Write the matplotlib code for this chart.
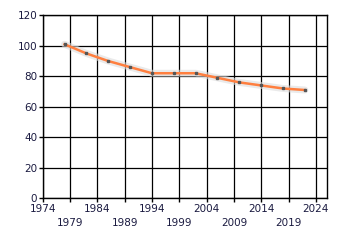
import matplotlib
matplotlib.use("Agg")
import matplotlib.pyplot as plt

years = [1978, 1982, 1986, 1990, 1994, 1998, 2002, 2006, 2010, 2014, 2018, 2022]
values = [101, 95, 90, 86, 82, 82, 82, 79, 76, 74, 72, 71]
xticks = list(range(1974, 2025, 5))
yticks = [0, 20, 40, 60, 80, 100, 120]

fig = plt.figure(figsize=(3.4, 2.45), dpi=100)
ax = fig.add_axes([0.1256, 0.1906, 0.961 - 0.1256, 0.9376 - 0.1906])

ax.plot(years, values, color="#dcdcdc", lw=5, alpha=0.6, solid_capstyle="round", zorder=3)
ax.plot(years, values, color="#ff7f3f", lw=1.8, zorder=4)
ax.plot(years, values, ls="none", marker="s", ms=1.6, color="#555555", zorder=5)

ax.set_xlim(1974, 2026)
ax.set_ylim(0, 120)
ax.set_xticks(xticks)
ax.set_xticklabels([str(y) if i % 2 == 0 else "\n" + str(y) for i, y in enumerate(xticks)])
for lab in ax.get_xticklabels():
    lab.set_linespacing(1.5)
ax.set_yticks(yticks)
ax.grid(True, color="black", lw=0.9)
ax.set_axisbelow(True)
for s in ax.spines.values():
    s.set_color("black")
    s.set_linewidth(1)
ax.tick_params(direction="out", length=3, width=1, labelsize=7.5, pad=1, colors="black")
ax.tick_params(axis="x", labelcolor="#1a1a40")
ax.tick_params(axis="y", labelcolor="#1a1a40")

fig.savefig("out.png", dpi=100)
